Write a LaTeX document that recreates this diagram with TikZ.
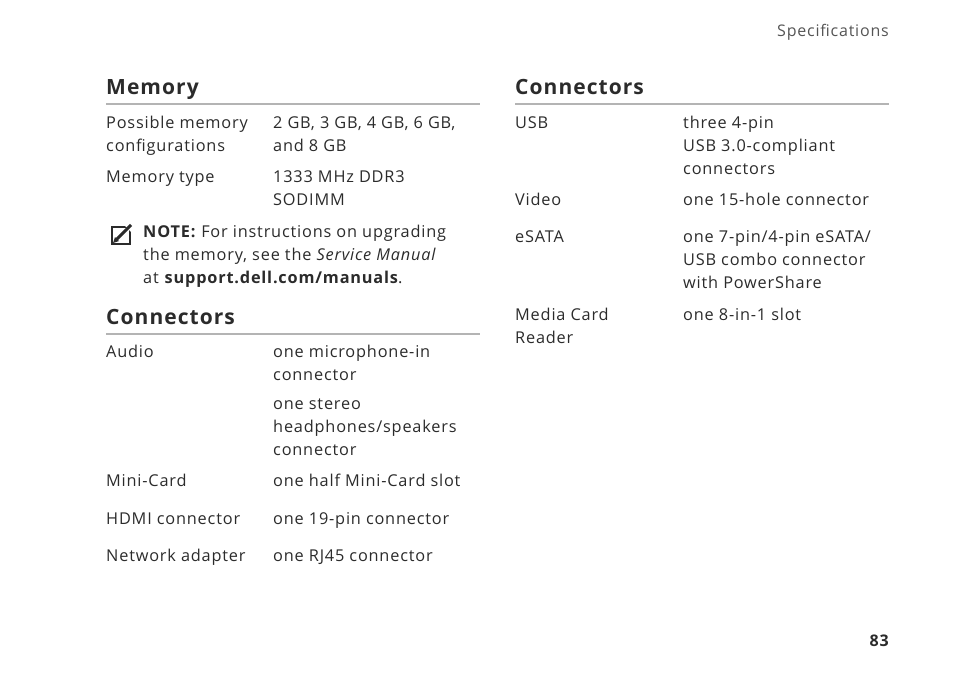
\documentclass[tikz,border=0pt]{standalone}
\usepackage{fontspec}
\setmainfont[LetterSpace=5]{Open Sans}
\usetikzlibrary{positioning}
\definecolor{ink}{HTML}{2B2B2B}
\definecolor{rule}{HTML}{B4B4B4}
\definecolor{hdr}{HTML}{555555}
\newcommand{\topline}{\rule{0pt}{14pt}}
\tikzset{
  cell/.style={anchor=north west, inner sep=0pt, align=left, text=ink,
    font=\fontsize{16.3}{23}\selectfont},
  head/.style={anchor=base west, inner sep=0pt, text=ink,
    font=\fontsize{21}{26}\selectfont\bfseries},
  hline/.style={draw=rule, line width=2pt}
}
\begin{document}
\begin{tikzpicture}[x=1pt,y=-1pt]
\useasboundingbox (0,0) rectangle (954,677);
\node [anchor=base east, inner sep=0pt, text=hdr, font=\fontsize{16}{20}\selectfont] (spec) at (889,37) {Specifications};
% memory
\node [head] (memh) at (106,95) {Memory};
\draw [hline] (106,104) -- (480,104);
\node [cell] (pm) at (106,114) {\topline Possible memory\\configurations};
\node [cell] (pmv) at (273,114) {\topline 2 GB, 3 GB, 4 GB, 6 GB,\\and 8 GB};
\node [cell] (mt) at (106,168) {\topline Memory type};
\node [cell] (mtv) at (273,168) {\topline 1333 MHz DDR3\\SODIMM};
% note
\draw [ink, line width=1.2pt] (112,227) rectangle (130,244);
\fill [white] (119,220) -- (135,220) -- (135,236) -- cycle;
\draw [ink, line width=3pt] (116,240) -- (131,225);
\fill [ink] (113,243) -- (115,237) -- (119,241) -- cycle;
\node [cell] (note) at (143,223) {\topline\textbf{NOTE:} For instructions on upgrading\\the memory, see the \emph{Service Manual}\\at \textbf{support.dell.com/manuals}.};
% connectors left
\node [head] (conl) at (106,324) {Connectors};
\draw [hline] (106,334) -- (480,334);
\node [cell] (au) at (106,343) {\topline Audio};
\node [cell] (auv) at (273,343) {\topline one microphone-in\\connector};
\node [cell] (auw) at (273,395) {\topline one stereo\\headphones/speakers\\connector};
\node [cell] (mc) at (106,472) {\topline Mini-Card};
\node [cell] (mcv) at (273,472) {\topline one half Mini-Card slot};
\node [cell] (hd) at (106,510) {\topline HDMI connector};
\node [cell] (hdv) at (273,510) {\topline one 19-pin connector};
\node [cell] (na) at (106,547) {\topline Network adapter};
\node [cell] (nav) at (273,547) {\topline one RJ45 connector};
% connectors right
\node [head] (conr) at (515,95) {Connectors};
\draw [hline] (515,104) -- (889,104);
\node [cell] (usb) at (515,114) {\topline USB};
\node [cell] (usbv) at (683,114) {\topline three 4-pin\\USB 3.0-compliant\\connectors};
\node [cell] (vid) at (515,191) {\topline Video};
\node [cell] (vidv) at (683,191) {\topline one 15-hole connector};
\node [cell] (es) at (515,228) {\topline eSATA};
\node [cell] (esv) at (683,228) {\topline one 7-pin/4-pin eSATA/\\USB combo connector\\with PowerShare};
\node [cell] (mr) at (515,306) {\topline Media Card\\Reader};
\node [cell] (mrv) at (683,306) {\topline one 8-in-1 slot};
\node [anchor=base east, inner sep=0pt, text=ink, font=\fontsize{16}{20}\selectfont\bfseries] (pg) at (889,646) {83};
\end{tikzpicture}
\end{document}
